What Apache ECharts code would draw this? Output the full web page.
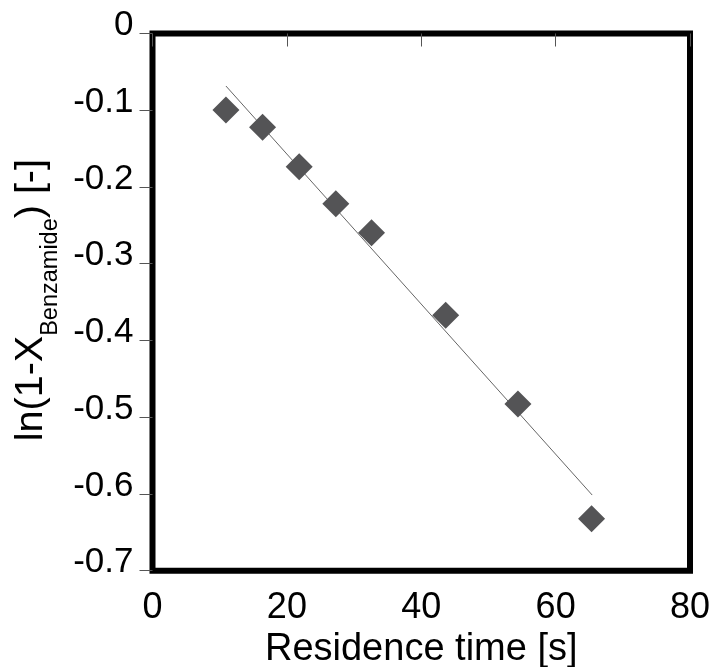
<!DOCTYPE html>
<html>
<head>
<meta charset="utf-8">
<script src="https://cdn.jsdelivr.net/npm/echarts@6/dist/echarts.min.js"></script>
<style>
html,body{margin:0;padding:0;background:#fff;}
#chart{width:714px;height:667px;}
</style>
</head>
<body>
<div id="chart"></div>
<script>
// Data
const residenceTime = [10.93, 16.38, 21.83, 27.28, 32.6, 43.64, 54.39, 65.35];
const lnConversion = [-0.0997, -0.1222, -0.1736, -0.2218, -0.2596, -0.3672, -0.4828, -0.6323];
const fitX = [10.93, 65.44];
const fitY = [-0.0684, -0.6014];
const xTicks = [0, 20, 40, 60, 80];
const yTicks = [0, -0.1, -0.2, -0.3, -0.4, -0.5, -0.6, -0.7];

const FONT = '"Liberation Sans", Arial, sans-serif';

const chart = echarts.init(document.getElementById('chart'), null, {renderer: 'canvas'});

const points = residenceTime.map((x, i) => [x, lnConversion[i]]);
const fitLine = fitX.map((x, i) => [x, fitY[i]]);

chart.setOption({
  backgroundColor: '#ffffff',
  animation: false,
  grid: {
    left: 152.5, right: 24, top: 33.5, bottom: 96.3,
    show: true, borderColor: '#000', borderWidth: 6, backgroundColor: 'transparent',
    containLabel: false,
    outerBoundsMode: 'none'
  },
  xAxis: {
    type: 'value',
    min: xTicks[0], max: xTicks[xTicks.length - 1], interval: 20,
    name: 'Residence time [s]',
    nameLocation: 'middle',
    nameGap: 54,
    nameTextStyle: {fontSize: 38, color: '#000', fontFamily: FONT},
    axisLine: {show: false},
    axisTick: {show: true, inside: false, length: 13, lineStyle: {color: '#555', width: 1}},
    axisLabel: {fontSize: 36, color: '#000', fontFamily: FONT, margin: 19, showMinLabel: true, showMaxLabel: true},
    splitLine: {show: false}
  },
  yAxis: {
    type: 'value',
    min: yTicks[yTicks.length - 1], max: yTicks[0], interval: 0.1,
    name: '{m|ln(1-X}{s|Benzamide}{m|) [-]}',
    nameLocation: 'middle',
    nameRotate: 90,
    nameGap: 88,
    nameTextStyle: {
      color: '#000', fontFamily: FONT, padding: [0, 0, 0, 4],
      rich: {
        m: {fontSize: 39.5, lineHeight: 62, verticalAlign: 'middle', color: '#000', fontFamily: FONT},
        s: {fontSize: 23.5, lineHeight: 23, verticalAlign: 'bottom', color: '#000', fontFamily: FONT}
      }
    },
    axisLine: {show: false},
    axisTick: {show: true, inside: false, length: 13, lineStyle: {color: '#555', width: 1}},
    axisLabel: {
      fontSize: 35, lineHeight: 16, color: '#000', fontFamily: FONT, margin: 19,
      verticalAlign: 'bottom',
      showMinLabel: true, showMaxLabel: true,
      formatter: v => (Math.abs(v) < 1e-9 ? '0' : String(Math.round(v * 10) / 10))
    },
    splitLine: {show: false}
  },
  series: [
    {
      type: 'line',
      data: fitLine,
      showSymbol: false,
      symbol: 'none',
      lineStyle: {color: '#666', width: 1},
      silent: true,
      z: 2
    },
    {
      type: 'scatter',
      data: points,
      symbol: 'diamond',
      symbolSize: 27,
      itemStyle: {color: '#545456', opacity: 1},
      z: 3
    }
  ]
});
</script>
</body>
</html>
